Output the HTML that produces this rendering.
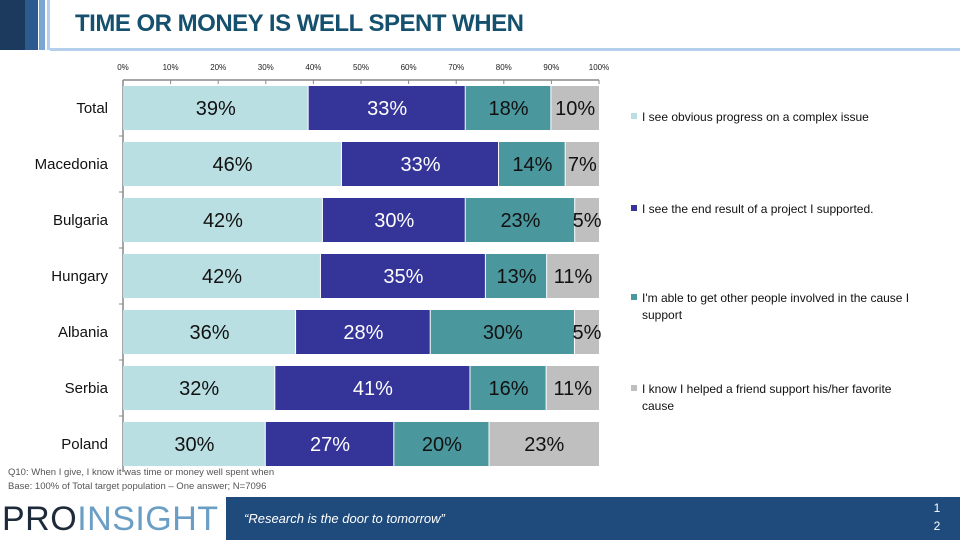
<!DOCTYPE html>
<html><head><meta charset="utf-8">
<style>
body{margin:0;width:960px;height:540px;overflow:hidden;background:#fff;font-family:"Liberation Sans",sans-serif;position:relative}
.abs{position:absolute}
</style></head>
<body>
<div class="abs" style="left:0;top:0;width:25px;height:50px;background:#1b3a5e"></div>
<div class="abs" style="left:25px;top:0;width:13px;height:50px;background:#2b5b8e"></div>
<div class="abs" style="left:39px;top:0;width:6px;height:50px;background:#7aa6d4"></div>
<div class="abs" style="left:47px;top:0;width:3px;height:50px;background:#b5d0ec"></div>
<div class="abs" style="left:50px;top:48px;width:910px;height:3px;background:#b5d0ec"></div>
<div class="abs" style="left:75px;top:10px;font-size:24px;font-weight:bold;color:#15506e;letter-spacing:-0.5px">TIME OR MONEY IS WELL SPENT WHEN</div>

<svg class="abs" style="left:0;top:0" width="960" height="540">
<g id="g"></g>
</svg>

<div class="abs" style="left:8px;top:467px;font-size:9.5px;color:#555">Q10: When I give, I know it was time or money well spent when</div>
<div class="abs" style="left:8px;top:481px;font-size:9.5px;color:#555">Base: 100% of Total target population – One answer; N=7096</div>

<div class="abs" style="left:2px;top:499px;font-size:34px;letter-spacing:0.5px;line-height:40px"><span style="color:#1e2a3a">PRO</span><span style="color:#6a9ec4">INSIGHT</span></div>
<div class="abs" style="left:226px;top:497px;width:734px;height:43px;background:#1f4a7c"></div>
<div class="abs" style="left:244px;top:511px;font-size:13px;font-style:italic;color:#fff">“Research is the door to tomorrow”</div>
<div class="abs" style="left:930px;top:499px;font-size:12px;color:#fff;line-height:18px;text-align:center;width:14px">1<br>2</div>

<script>
const categories=["Total","Macedonia","Bulgaria","Hungary","Albania","Serbia","Poland"];
const progress=[39,46,42,42,36,32,30];
const endResult=[33,33,30,35,28,41,27];
const involved=[18,14,23,13,30,16,20];
const friend=[10,7,5,11,5,11,23];
const tickLabels=["0%","10%","20%","30%","40%","50%","60%","70%","80%","90%","100%"];
const seriesNames=["I see obvious progress on a complex issue","I see the end result of a project I supported.","I'm able to get other people involved in the cause I|support","I know I helped a friend support his/her favorite|cause"];
const colors=["#badfe3","#343499","#4a979d","#bfbfbf"];
const ns="http://www.w3.org/2000/svg";
const g=document.getElementById('g');
const X0=123,X1=599,Y0=80,ROW=56,BH=44;
function x(v){return X0+(X1-X0)*v/100;}
function y(i){return Y0+ROW*i+6;}
function mk(t,a){const e=document.createElementNS(ns,t);for(const k in a)e.setAttribute(k,a[k]);g.appendChild(e);return e;}
let ax=mk('line',{x1:X0,y1:Y0,x2:X1,y2:Y0,stroke:'#888','stroke-width':1.5});


let ay=mk('line',{x1:X0,y1:Y0,x2:X0,y2:Y0+ROW*categories.length,stroke:'#888','stroke-width':1.5});


tickLabels.forEach((t,i)=>{
  const v=i*10;
  mk('line',{x1:x(v),y1:Y0,x2:x(v),y2:Y0+4,stroke:'#888'});
  const tx=mk('text',{x:x(v),y:Y0-10,'font-size':8,'text-anchor':'middle',fill:'#222'});
  tx.textContent=t;
  
  
});
for(let i=1;i<categories.length;i++)mk('line',{x1:X0-4,y1:Y0+ROW*i,x2:X0,y2:Y0+ROW*i,stroke:'#888'});
const series=[progress,endResult,involved,friend];
categories.forEach((c,i)=>{
  const lb=mk('text',{x:108,y:y(i)+BH/2+5,'font-size':15,'text-anchor':'end',fill:'#111'});
  lb.textContent=c;
  
  
  const tot=series.reduce((s,a)=>s+a[i],0);
  let acc=0;
  series.forEach((s,k)=>{
    const v=s[i]*100/tot;
    const r=mk('rect',{x:x(acc),y:y(i),width:Math.max(0,x(acc+v)-x(acc)-(k<3?1:0)),height:BH,fill:colors[k]});
    
    
    const t=mk('text',{x:(x(acc)+x(acc+v))/2,y:y(i)+BH/2+7,'font-size':20,'text-anchor':'middle',fill:k==1?'#fff':'#111'});
    t.textContent=s[i]+'%';
    
    
    acc+=v;
  });
});
const ly=[117,209,298,389];
seriesNames.forEach((n,k)=>{
  const sq=mk('rect',{x:631,y:ly[k]-4,width:6,height:6,fill:colors[k]});
  
  
  n.split('|').forEach((ln,j)=>{
    const t=mk('text',{x:642,y:ly[k]+4+j*17,'font-size':12,fill:'#111'});
    t.textContent=ln;
    
    
  });
});
</script>
</body></html>
